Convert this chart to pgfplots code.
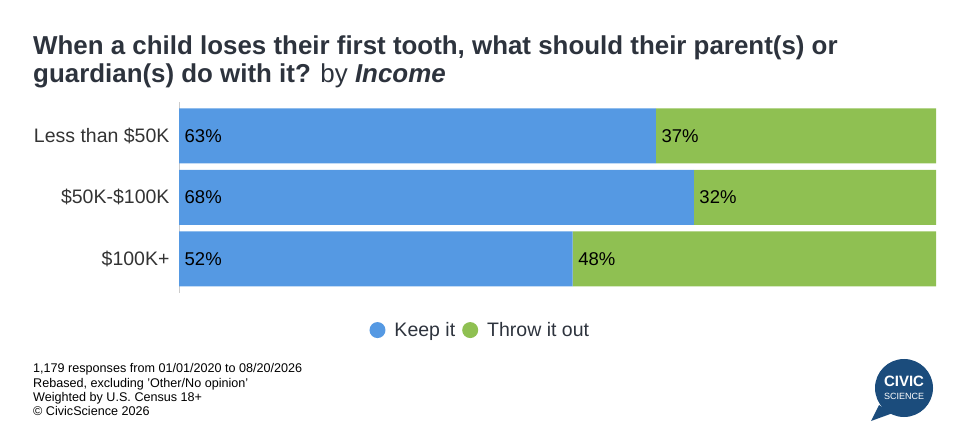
\documentclass[border=0pt]{standalone}
\usepackage{fontspec}
\setmainfont{Liberation Sans}
\usepackage{pgfplots}
\pgfplotsset{compat=1.18}
\definecolor{cblue}{RGB}{85,153,227}
\definecolor{cgreen}{RGB}{143,192,82}
\definecolor{ctitle}{RGB}{45,51,61}
\definecolor{ctext}{RGB}{51,51,51}
\definecolor{clogo}{RGB}{27,76,124}
\pgfplotsset{
  frame/.style={at={(179pt,-292.7pt)}, anchor=south west,
  scale only axis, width=757pt, height=190.7pt,
  xmin=0, xmax=100, ymin=-0.55, ymax=2.55, y dir=reverse}
}
\begin{document}
\begin{tikzpicture}
\path (0pt,0pt) rectangle (966pt,-443pt);
\node[anchor=base west, inner sep=0pt, font=\fontsize{25.9}{28}\selectfont\bfseries, text=ctitle] at (33pt,-55pt) {When a child loses their first tooth, what should their parent(s) or};
\node[anchor=base west, inner sep=0pt, font=\fontsize{25.9}{28}\selectfont\bfseries, text=ctitle] at (33pt,-83pt) {guardian(s) do with it? {\mdseries by} \textit{Income}};
\begin{axis}[
  frame,
  xbar stacked, bar width=55pt,
  axis x line=none, axis y line*=left,
  axis line style={-, draw=black!20, line width=0.8pt},
  ytick={0,1,2},
  yticklabels={Less than \$50K, \$50K-\$100K, \$100K+},
  major tick length=0pt,
  yticklabel style={font=\fontsize{19.5}{19.5}\selectfont, text=ctext, xshift=-6pt},
  legend style={at={(0.398,-0.196)}, anchor=center, draw=none, fill=none,
    legend columns=2, font=\fontsize{19.5}{19.5}\selectfont, text=ctitle,
    /tikz/every even column/.append style={column sep=5pt},
    /tikz/every odd column/.append style={column sep=7pt}},
]
\addplot[fill=cblue, draw=none, legend image code/.code={\fill[cblue] (4pt,0pt) circle (8pt);}] coordinates {(63,0) (68,1) (52,2)};
\addplot[fill=cgreen, draw=none, legend image code/.code={\fill[cgreen] (4pt,0pt) circle (8pt);}] coordinates {(37,0) (32,1) (48,2)};
\legend{Keep it, Throw it out}
\end{axis}
\begin{axis}[frame, hide axis]
\addplot[draw=none, mark=none, nodes near coords={\pgfplotspointmeta\%}, point meta=explicit symbolic,
  nodes near coords style={anchor=west, xshift=5.5pt, inner sep=0pt, font=\fontsize{18.5}{18.5}\selectfont, text=black}]
  table[meta=label] {
x y label
0 0 63
0 1 68
0 2 52
63 0 37
68 1 32
52 2 48
};
\end{axis}
\foreach \t [count=\i] in {{1,179 responses from 01/01/2020 to 08/20/2026},{Rebased, excluding 'Other/No opinion'},{Weighted by U.S. Census 18+},{\textcopyright{} CivicScience 2026}}{
  \node[anchor=base west, inner sep=0pt, font=\fontsize{12.6}{13}\selectfont, text=black] at (33pt,{-359pt-14pt*\i}) {\t};
}
\fill[clogo] (904pt,-388pt) circle (29pt);
\fill[clogo] (879pt,-405pt) -- (871pt,-421pt) -- (893pt,-413pt) -- cycle;
\node[text=white, inner sep=0pt, font=\bfseries\fontsize{15}{15}\selectfont] at (904pt,-381pt) {CIVIC};
\node[text=white, inner sep=0pt, font=\fontsize{9}{9}\selectfont] at (904pt,-396pt) {SCIENCE};
\end{tikzpicture}
\end{document}
